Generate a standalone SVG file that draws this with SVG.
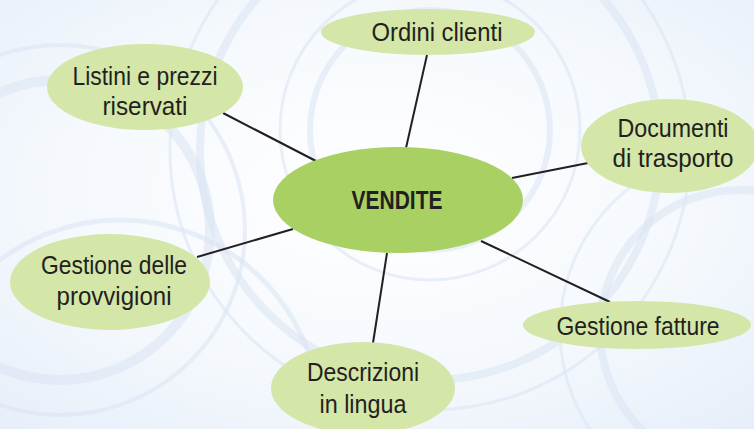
<svg xmlns="http://www.w3.org/2000/svg" width="754" height="429" viewBox="0 0 754 429">
<defs>
<radialGradient id="bg" cx="0.5" cy="0.45" r="0.75">
<stop offset="0" stop-color="#ffffff"/>
<stop offset="0.6" stop-color="#f4f8fd"/>
<stop offset="1" stop-color="#e6eef9"/>
</radialGradient>
</defs>
<style>
.sw{fill:none;stroke:#d8e3f3;stroke-opacity:0.55}
.outer{fill:#d4e6a8}
.center{fill:#a9d063}
.t{font-family:"Liberation Sans",Arial,sans-serif;font-size:26px;fill:#231f20;text-anchor:middle}
.b{font-weight:bold}
.c{stroke:#231f20;stroke-width:2;fill:none}
</style>
<rect width="754" height="429" fill="url(#bg)"/>
<g id="background">
<circle class="sw" cx="430" cy="130" r="120" stroke-width="6"/>
<circle class="sw" cx="430" cy="130" r="150" stroke-width="3"/>
<circle class="sw" cx="430" cy="150" r="230" stroke-width="8"/>
<circle class="sw" cx="430" cy="150" r="260" stroke-width="3"/>
<circle class="sw" cx="60" cy="230" r="150" stroke-width="10"/>
<circle class="sw" cx="60" cy="230" r="185" stroke-width="4"/>
<circle class="sw" cx="740" cy="330" r="140" stroke-width="8"/>
<circle class="sw" cx="740" cy="330" r="180" stroke-width="3"/>
<circle class="sw" cx="120" cy="420" r="200" stroke-width="5"/>
</g>
<g id="connectors">
<line class="c" x1="427" y1="55" x2="406" y2="148"/>
<line class="c" x1="223" y1="113" x2="316" y2="161"/>
<line class="c" x1="588" y1="163" x2="512" y2="178"/>
<line class="c" x1="197" y1="257" x2="293" y2="229"/>
<line class="c" x1="373" y1="343" x2="387" y2="253"/>
<line class="c" x1="610" y1="302" x2="481" y2="241"/>
</g>
<g id="vendite">
<ellipse class="center" cx="398" cy="200" rx="125" ry="53"/>
<text class="t b" x="397" y="209" textLength="91" lengthAdjust="spacingAndGlyphs">VENDITE</text>
</g>
<g id="ordini-clienti">
<ellipse class="outer" cx="428" cy="32" rx="107" ry="23"/>
<text class="t" x="437" y="41" textLength="131" lengthAdjust="spacingAndGlyphs">Ordini clienti</text>
</g>
<g id="listini">
<ellipse class="outer" cx="145" cy="87" rx="98" ry="43"/>
<text class="t" x="145" y="85" textLength="145" lengthAdjust="spacingAndGlyphs">Listini e prezzi</text>
<text class="t" x="145" y="115" textLength="85" lengthAdjust="spacingAndGlyphs">riservati</text>
</g>
<g id="documenti">
<ellipse class="outer" cx="670" cy="146" rx="89" ry="47"/>
<text class="t" x="673" y="137" textLength="111" lengthAdjust="spacingAndGlyphs">Documenti</text>
<text class="t" x="673" y="167" textLength="121" lengthAdjust="spacingAndGlyphs">di trasporto</text>
</g>
<g id="gestione-provvigioni">
<ellipse class="outer" cx="110" cy="282" rx="100" ry="48"/>
<text class="t" x="114" y="274" textLength="146" lengthAdjust="spacingAndGlyphs">Gestione delle</text>
<text class="t" x="114" y="305" textLength="115" lengthAdjust="spacingAndGlyphs">provvigioni</text>
</g>
<g id="gestione-fatture">
<ellipse class="outer" cx="637" cy="325" rx="114" ry="24"/>
<text class="t" x="638" y="335" textLength="163" lengthAdjust="spacingAndGlyphs">Gestione fatture</text>
</g>
<g id="descrizioni">
<ellipse class="outer" cx="363" cy="388" rx="92" ry="46"/>
<text class="t" x="363" y="381" textLength="112" lengthAdjust="spacingAndGlyphs">Descrizioni</text>
<text class="t" x="363" y="413" textLength="87" lengthAdjust="spacingAndGlyphs">in lingua</text>
</g>
</svg>
